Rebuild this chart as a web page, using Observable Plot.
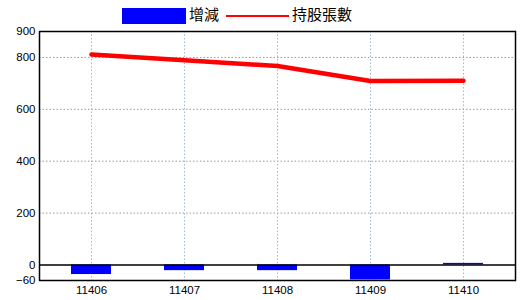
<!DOCTYPE html>
<html>
<head>
<meta charset="utf-8">
<script src="https://cdn.jsdelivr.net/npm/d3@7"></script>
<script src="https://cdn.jsdelivr.net/npm/@observablehq/plot@0.6"></script>
<style>
  body { margin: 0; background: #fff; width: 520px; height: 300px; overflow: hidden; }
  #legend { position: relative; height: 18px; z-index: 2; font-family: "Noto Sans CJK TC", sans-serif; font-size: 15px; color: #000; }
  #legend .sw { position: absolute; }
  #legend .lb { position: absolute; top: 5px; line-height: 18px; }
  #chart svg { display: block; font-family: "Liberation Sans", Arial, sans-serif; }
</style>
</head>
<body>
<div id="legend">
  <div class="sw" style="left:122px; top:8px; width:64px; height:16px; background:#0000ff;"></div>
  <div class="lb" style="left:189px;">增減</div>
  <div class="sw" style="left:226px; top:15px; width:63px; height:1.5px; background:#ff0000;"></div>
  <div class="lb" style="left:292px;">持股張數</div>
</div>
<div id="chart"></div>
<script>
const months = ["11406", "11407", "11408", "11409", "11410"];
const changes = [-37, -22, -22, -58, 6];
const holdings = [811, 789, 767, 709, 710];
const yTicks = [900, 800, 600, 400, 200, 0, -60];
const gridValues = [800, 600, 400, 200];

const data = months.map((m, i) => ({month: m, change: changes[i], holding: holdings[i]}));

const chart = Plot.plot({
  width: 520,
  height: 282,
  marginLeft: 39,
  marginRight: 5,
  marginTop: 13,
  marginBottom: 20,
  style: {background: "transparent", fontSize: "11.5px"},
  x: {type: "band", domain: months, paddingInner: 0.574, paddingOuter: 0.319, tickSize: 0, tickPadding: 5, label: null},
  y: {domain: [-60, 900], ticks: yTicks, tickSize: 0, tickPadding: 4, label: null},
  marks: [
    Plot.ruleY(gridValues, {stroke: "#999", strokeDasharray: "1.5,2", strokeWidth: 1}),
    Plot.ruleX(months, {x: d => d, stroke: "#9bbccc", strokeDasharray: "1.5,2", strokeWidth: 1}),
    Plot.barY(data, {x: "month", y: "change", fill: "#0000ff"}),
    Plot.ruleY([0], {stroke: "#000", strokeWidth: 1.5}),
    Plot.line(data, {x: "month", y: "holding", stroke: "#ff0000", strokeWidth: 4.5}),
    Plot.frame({stroke: "#000", strokeWidth: 1.5})
  ]
});
document.getElementById("chart").appendChild(chart);
</script>
</body>
</html>
